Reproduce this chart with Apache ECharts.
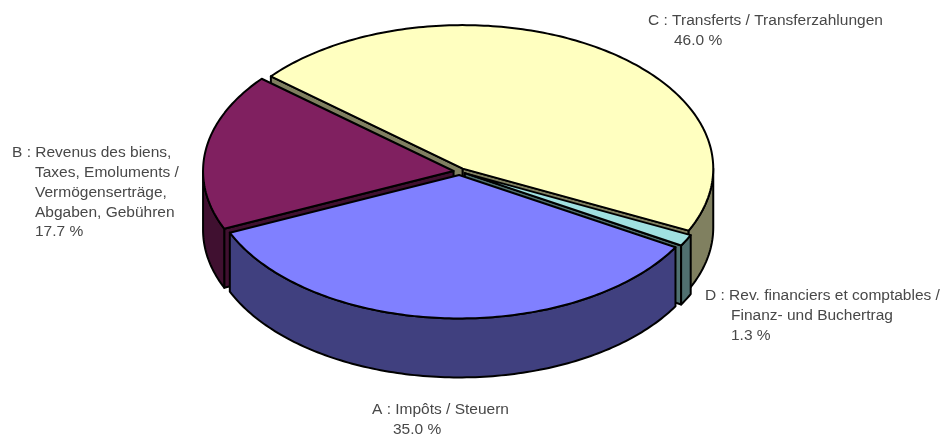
<!DOCTYPE html>
<html><head><meta charset="utf-8">
<style>html,body{margin:0;padding:0;background:#fff}#c{width:948px;height:434px}</style>
<script src="https://cdn.jsdelivr.net/npm/echarts@6/dist/echarts.min.js"></script>
</head><body><div id="c"></div>
<script>
// Data, clockwise from the slice's start angle
const categories = ['C : Transferts / Transferzahlungen',
  'D : Rev. financiers et comptables /\nFinanz- und Buchertrag',
  'A : Impôts / Steuern',
  'B : Revenus des biens,\nTaxes, Emoluments /\nVermögenserträge,\nAbgaben, Gebühren'];
const values = [46.0, 1.3, 35.0, 17.7];
const drawOrder = [0, 3, 1, 2];

// Layout and styles
const topColors = ['#FFFFC0', '#A0E0E0', '#8080FF', '#802060'];
const sideColors = ['#808060', '#507070', '#40407F', '#401030'];
const labelLayout = [
  {x: 648, y: 21, indent: 26},
  {x: 705, y: 296, indent: 26},
  {x: 372, y: 410, indent: 21},
  {x: 12, y: 153, indent: 23}
];
const pie = {cx: 459.5, cy: 171.5, rx: 250.5, ry: 143.5, depth: 59, explode: 6, start: -50};
const LINE = 2, FONT = '15.5px "Liberation Sans", Arial, sans-serif', LINE_H = 19.8;

const total = values.reduce((a, b) => a + b, 0);
const rad = d => d * Math.PI / 180;

function renderSlice(params, api) {
  const i = api.value(0);
  let a0 = pie.start;
  for (let k = 0; k < i; k++) a0 += values[k] / total * 360;
  const a1 = a0 + values[i] / total * 360, mid = (a0 + a1) / 2;
  const ox = pie.cx + pie.explode * Math.sin(rad(mid));
  const oy = pie.cy - pie.explode * pie.ry / pie.rx * Math.cos(rad(mid));
  const pt = (a, dz) => [ox + pie.rx * Math.sin(rad(a)), oy - pie.ry * Math.cos(rad(a)) + (dz || 0)];
  const arc = (from, to, dz) => {
    const out = [], n = Math.max(2, Math.ceil(Math.abs(to - from)));
    for (let k = 0; k <= n; k++) out.push(pt(from + (to - from) * k / n, dz));
    return out;
  };
  const poly = (points, fill) => ({
    type: 'polygon', shape: {points},
    style: {fill, stroke: '#000', lineWidth: LINE, lineJoin: 'round'}
  });
  const d = pie.depth, side = sideColors[i], children = [];
  const apex = [ox, oy], apexD = [ox, oy + d];
  // Only the radial walls that face the viewer are drawn
  if (Math.sin(rad(a0)) < 0) children.push(poly([apex, pt(a0), pt(a0, d), apexD], side));
  if (Math.sin(rad(a1)) > 0) children.push(poly([apex, pt(a1), pt(a1, d), apexD], side));
  const f0 = Math.max(a0, 90), f1 = Math.min(a1, 270);
  if (f1 > f0) children.push(poly(arc(f0, f1, 0).concat(arc(f1, f0, d)), side));
  children.push(poly([apex].concat(arc(a0, a1, 0)), topColors[i]));
  return {type: 'group', children};
}

const labelEls = [];
categories.forEach((name, i) => {
  const lay = labelLayout[i];
  const lines = name.split('\n').concat([values[i].toFixed(1) + ' %']);
  lines.forEach((t, k) => labelEls.push({
    type: 'text', x: lay.x + (k ? lay.indent : 0), y: lay.y + k * LINE_H, silent: true,
    style: {text: t, font: FONT, fill: '#484848', verticalAlign: 'middle'}
  }));
});

const chart = echarts.init(document.getElementById('c'), null, {renderer: 'canvas'});
chart.setOption({
  animation: false,
  backgroundColor: '#fff',
  series: [{
    type: 'custom', coordinateSystem: 'none', silent: true,
    renderItem: renderSlice,
    encode: {value: 0},
    data: drawOrder.map(i => [i])
  }],
  graphic: {elements: labelEls}
});
</script></body></html>
